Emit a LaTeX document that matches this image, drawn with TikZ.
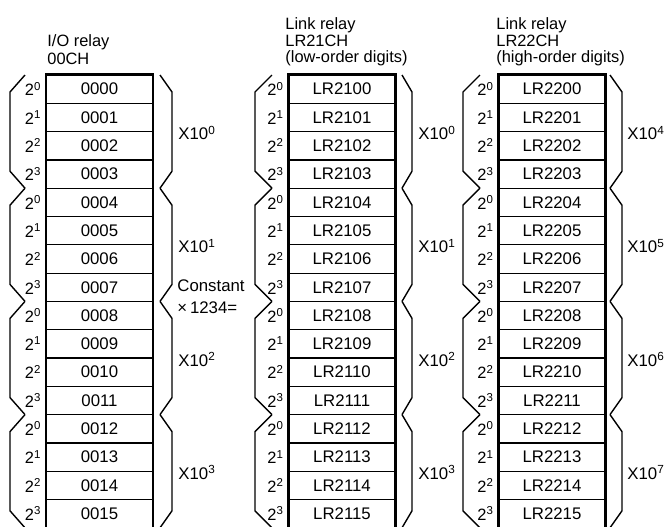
\documentclass[tikz,border=0pt]{standalone}
\usepackage{fontspec}
\setmainfont{Liberation Sans}
\begin{document}
\begin{tikzpicture}[x=0.5pt,y=-0.5pt,
    cell/.style={draw,line width=0.6pt,minimum width=53pt,minimum height=14.15pt,inner sep=0pt,font=\fontsize{8.4}{9}\selectfont},
    bit/.style={anchor=east,inner sep=2pt,font=\fontsize{8.2}{9}\selectfont},
    fac/.style={anchor=west,inner sep=0pt,font=\fontsize{8.4}{9}\selectfont},
    head/.style={anchor=north west,inner sep=0pt,align=left,font=\fontsize{8.2}{8.4}\selectfont},
    brace/.style={line width=0.7pt}]
\useasboundingbox (0,0) rectangle (665,526);
% headings
\node[head,font=\fontsize{8.2}{9}\selectfont] (iohead) at (47,34) {I/O relay\\00CH};
\node[head] (lrahead) at (285,17) {Link relay\\LR21CH\\(low-order digits)};
\node[head] (lrbhead) at (496,17) {Link relay\\LR22CH\\(high-order digits)};
% relay cells
\foreach \i in {0,...,15} {
    \pgfmathtruncatemacro\b{mod(\i,4)}
    \pgfmathsetmacro\yy{89.15+28.3*\i}
    \ifnum\i<10 \def\n{0\i}\else\def\n{\i}\fi
    \node[cell] (io\i) at (99.5,\yy) {00\n};
    \node[cell] (lra\i) at (342,\yy) {LR21\n};
    \node[cell] (lrb\i) at (552,\yy) {LR22\n};
    \node[bit] (iob\i) at (io\i.west) {2\textsuperscript{\b}};
    \node[bit] (lrab\i) at (lra\i.west) {2\textsuperscript{\b}};
    \node[bit] (lrbb\i) at (lrb\i.west) {2\textsuperscript{\b}};
}
\draw[line width=1.1pt] (io0.north west) rectangle (io15.south east);
\draw[line width=1.1pt] (lra0.north west) rectangle (lra15.south east);
\draw[line width=1.1pt] (lrb0.north west) rectangle (lrb15.south east);
% brackets and factors
\foreach \g in {0,...,3} {
    \pgfmathsetmacro\ta{75+113.2*\g}
    \pgfmathsetmacro\tb{\ta+113.2}
    \pgfmathsetmacro\ym{133+113.2*\g}
    \pgfmathtruncatemacro\h{\g+4}
    \foreach \ap/\vx in {25/10, 272/255, 480/463, 160/172, 402/412, 610/622}
        \draw[brace] (\ap,\ta) -- (\vx,\ta+17) -- (\vx,\tb-17) -- (\ap,\tb);
    \node[fac] (iof\g) at (178,\ym) {X10\textsuperscript{\g}};
    \node[fac] (lraf\g) at (418,\ym) {X10\textsuperscript{\g}};
    \node[fac] (lrbf\g) at (627,\ym) {X10\textsuperscript{\h}};
}
\node[fac] (const) at (177,286) {Constant};
\node[fac] (mult) at (177,308) {×\,1234=};
\end{tikzpicture}
\end{document}
